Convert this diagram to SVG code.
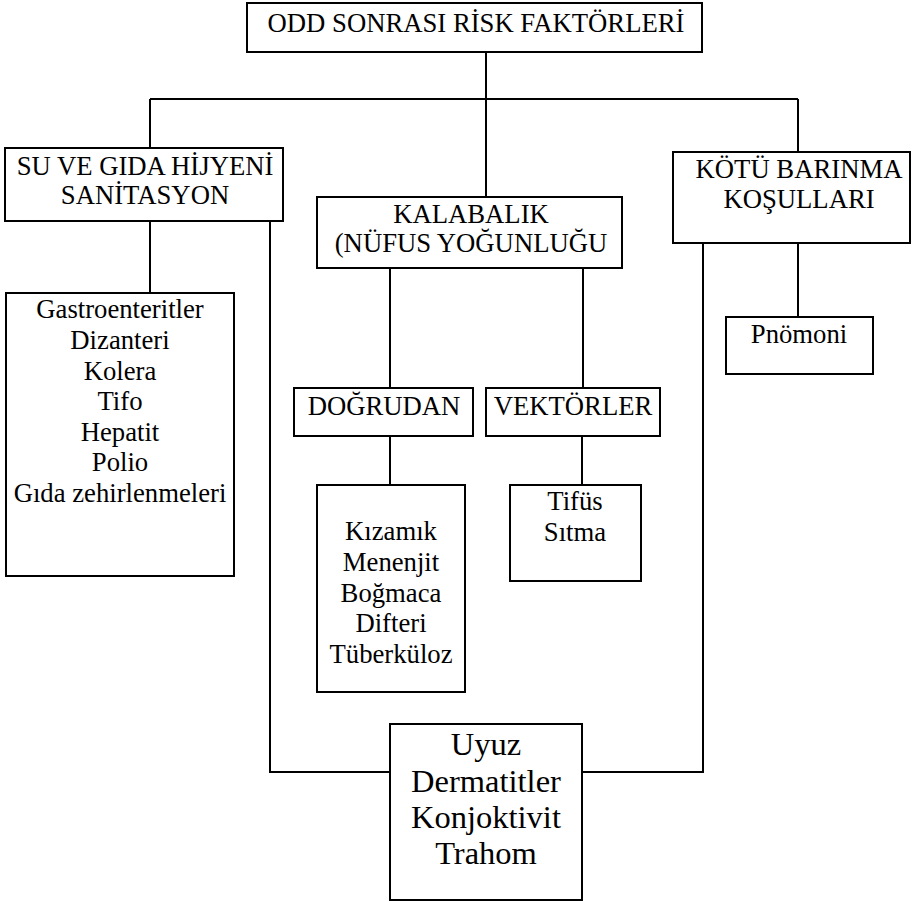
<svg xmlns="http://www.w3.org/2000/svg" width="912" height="901" viewBox="0 0 912 901">
  <style>
    .box { fill: #fff; stroke: #000; stroke-width: 2; }
    .wire { fill: none; stroke: #000; stroke-width: 2; }
    text { font-family: "Liberation Serif", "Times New Roman", serif; font-size: 26.7px; fill: #000; text-anchor: middle; }
    .big { font-size: 32.5px; }
  </style>
  <rect width="912" height="901" fill="#fff"/>

  <g id="connectors">
    <path class="wire" d="M486 52 V99"/>
    <path class="wire" d="M150 99 H798"/>
    <path class="wire" d="M150 99 V148"/>
    <path class="wire" d="M486 99 V197"/>
    <path class="wire" d="M798 99 V152"/>
    <path class="wire" d="M150 221 V293"/>
    <path class="wire" d="M390 268 V388"/>
    <path class="wire" d="M583 268 V388"/>
    <path class="wire" d="M390 436 V485"/>
    <path class="wire" d="M582 436 V485"/>
    <path class="wire" d="M798 243 V317"/>
    <path class="wire" d="M270 221 V772 H390"/>
    <path class="wire" d="M703 243 V772 H582"/>
  </g>

  <g id="risk-factors">
    <rect class="box" x="247" y="3" width="455" height="49"/>
    <text x="476" y="32">ODD SONRASI RİSK FAKTÖRLERİ</text>
  </g>

  <g id="hygiene">
    <rect class="box" x="5" y="148" width="278" height="73"/>
    <text x="145" y="175">SU VE GIDA HİJYENİ</text>
    <text x="145" y="204">SANİTASYON</text>
  </g>

  <g id="crowding">
    <rect class="box" x="317" y="197" width="305" height="71"/>
    <text x="471" y="223">KALABALIK</text>
    <text x="471" y="252">(NÜFUS YOĞUNLUĞU</text>
  </g>

  <g id="shelter">
    <rect class="box" x="673" y="152" width="237" height="91"/>
    <text x="799" y="178">KÖTÜ BARINMA</text>
    <text x="799" y="208">KOŞULLARI</text>
  </g>

  <g id="waterborne">
    <rect class="box" x="6" y="293" width="228" height="283"/>
    <text x="120" y="318">Gastroenteritler</text>
    <text x="120" y="349">Dizanteri</text>
    <text x="120" y="380">Kolera</text>
    <text x="120" y="410">Tifo</text>
    <text x="120" y="441">Hepatit</text>
    <text x="120" y="471">Polio</text>
    <text x="120" y="502">Gıda zehirlenmeleri</text>
  </g>

  <g id="direct">
    <rect class="box" x="294" y="388" width="179" height="48"/>
    <text x="384" y="415">DOĞRUDAN</text>
  </g>

  <g id="vectors">
    <rect class="box" x="486" y="388" width="174" height="48"/>
    <text x="573" y="415">VEKTÖRLER</text>
  </g>

  <g id="direct-diseases">
    <rect class="box" x="317" y="485" width="148" height="207"/>
    <text x="391" y="540">Kızamık</text>
    <text x="391" y="571">Menenjit</text>
    <text x="391" y="602">Boğmaca</text>
    <text x="391" y="632">Difteri</text>
    <text x="391" y="663">Tüberküloz</text>
  </g>

  <g id="vector-diseases">
    <rect class="box" x="510" y="485" width="131" height="96"/>
    <text x="575" y="510">Tifüs</text>
    <text x="575" y="541">Sıtma</text>
  </g>

  <g id="pneumonia">
    <rect class="box" x="726" y="317" width="147" height="57"/>
    <text x="799" y="343">Pnömoni</text>
  </g>

  <g id="skin-eye">
    <rect class="box" x="390" y="724" width="192" height="176"/>
    <text class="big" x="486" y="755">Uyuz</text>
    <text class="big" x="486" y="792">Dermatitler</text>
    <text class="big" x="486" y="828">Konjoktivit</text>
    <text class="big" x="486" y="864">Trahom</text>
  </g>
</svg>
